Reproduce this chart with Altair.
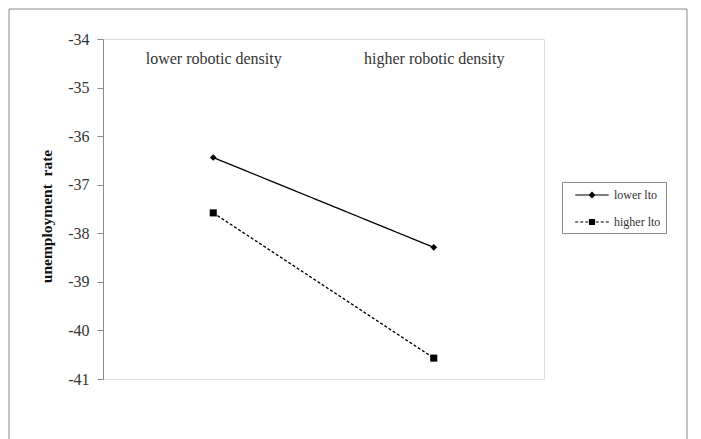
import altair as alt
import pandas as pd

categories = ["lower robotic density", "higher robotic density"]
series = ["lower lto", "higher lto"]
lower_lto = [-36.44, -38.29]
higher_lto = [-37.58, -40.57]
y_ticks = [-34, -35, -36, -37, -38, -39, -40, -41]

rows = []
for s, vals in zip(series, [lower_lto, higher_lto]):
    for c, v in zip(categories, vals):
        rows.append({"category": c, "series": s, "value": v})
df = pd.DataFrame(rows)

FONT = "Liberation Serif"
GRAY = "#8a8a8a"


def seg(x0, x1, h):
    return f"M{x0},{-h}L{x1},{-h}L{x1},{h}L{x0},{h}Z"


# legend glyphs: line + marker as filled custom symbol paths
path_lower = seg(-2.1, 2.1, 0.075) + "M0,-0.45L0.45,0L0,0.45L-0.45,0Z"
path_higher = (seg(-2.1, -1.72, 0.07) + seg(-1.47, -1.09, 0.07) + seg(-0.84, -0.46, 0.07)
               + "M-0.38,-0.38L0.38,-0.38L0.38,0.38L-0.38,0.38Z"
               + seg(0.46, 0.84, 0.07) + seg(1.09, 1.47, 0.07) + seg(1.72, 2.1, 0.07))

x_enc = alt.X(
    "category:N", sort=categories,
    scale=alt.Scale(type="point", padding=0.5),
    axis=alt.Axis(orient="top", title=None, domain=False, ticks=False, tickSize=0,
                  labelPadding=-24, labelBaseline="alphabetic", labelAngle=0,
                  labelFont=FONT, labelFontSize=16, labelColor="#333"),
)
y_enc = alt.Y(
    "value:Q",
    scale=alt.Scale(domain=[-41, -34], nice=False, zero=False),
    axis=alt.Axis(values=y_ticks, labelExpr="'' + datum.value",
                  title="unemployment\u00a0 rate", grid=False,
                  domainColor=GRAY, tickColor=GRAY, tickSize=6, labelPadding=8,
                  labelFont=FONT, labelFontSize=16, labelColor="#333",
                  titleFont=FONT, titleFontSize=15.5, titleFontWeight="bold",
                  titleColor="#111", titlePadding=13, titleY=177),
)

frame = alt.Chart(pd.DataFrame({"f": [0]})).mark_rect(
    fill="transparent", stroke=GRAY, strokeWidth=1
).encode(x=alt.value(-94), x2=alt.value(584), y=alt.value(-30), y2=alt.value(420))

lines = alt.Chart(df).mark_line(color="black", strokeWidth=1.3).encode(
    x=x_enc, y=y_enc,
    strokeDash=alt.StrokeDash("series:N", scale=alt.Scale(domain=series, range=[[1, 0], [3, 2]]), legend=None),
)

pts_lower = alt.Chart(df).transform_filter(alt.datum.series == "lower lto").mark_point(
    shape="diamond", filled=True, color="black", size=45, opacity=1
).encode(x=x_enc, y=y_enc)

pts_higher = alt.Chart(df).transform_filter(alt.datum.series == "higher lto").mark_point(
    shape="square", filled=True, color="black", size=50, opacity=1
).encode(x=x_enc, y=y_enc)

legend_layer = alt.Chart(df).transform_calculate(key="datum.series").mark_point(
    filled=True, fill="black", opacity=0
).encode(
    x=x_enc, y=y_enc,
    shape=alt.Shape(
        "key:N",
        scale=alt.Scale(domain=series, range=[path_lower, path_higher]),
        legend=alt.Legend(title=None, orient="none", legendX=459, legendY=143,
                          padding=5, rowPadding=13, symbolSize=256, symbolOffset=17,
                          labelOffset=14, symbolFillColor="black",
                          symbolStrokeWidth=0, symbolOpacity=1,
                          labelFont=FONT, labelFontSize=12, labelColor="#333",
                          strokeColor=GRAY),
    ),
)

chart = alt.layer(frame, lines, pts_lower, pts_higher, legend_layer).resolve_legend(
    shape="independent", strokeDash="independent"
).properties(
    width=441, height=340,
    autosize=alt.AutoSizeParams(type="none"),
    padding={"left": 95, "top": 31, "right": 145, "bottom": 60},
).configure_view(stroke=GRAY, strokeWidth=1).configure(background="white")

chart.save("out.html", embed_options={"renderer": "svg", "actions": False})
